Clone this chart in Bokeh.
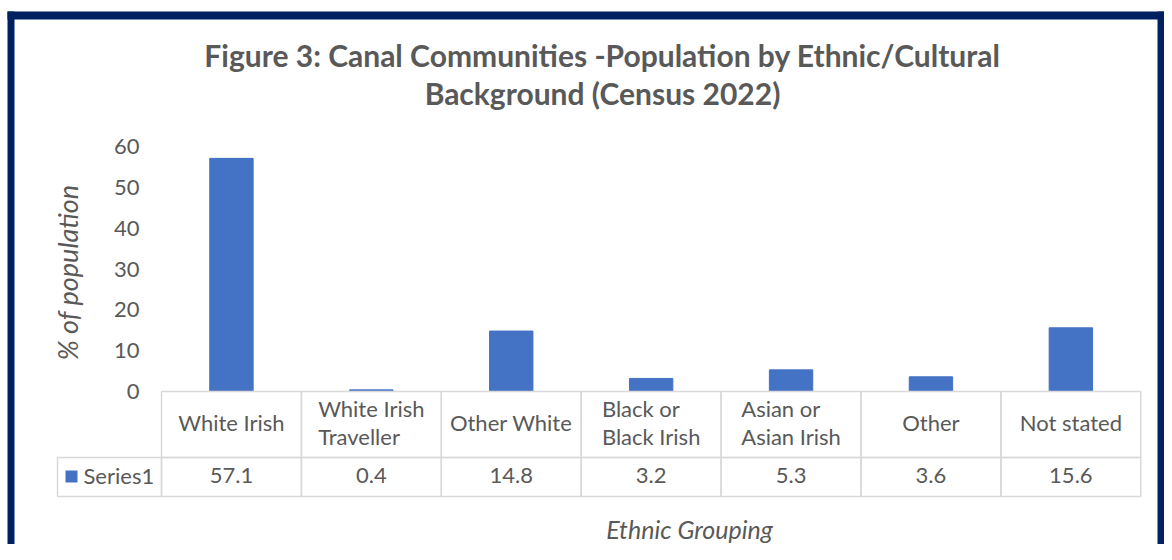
from bokeh.plotting import figure
from bokeh.models import Range1d, FixedTicker, BoxAnnotation, Label, LabelSet, ColumnDataSource
from bokeh.core.properties import value
from bokeh.embed import file_html
from bokeh.resources import INLINE

# ---- data ----
categories = ["White Irish", "White Irish\nTraveller", "Other White", "Black or\nBlack Irish",
              "Asian or\nAsian Irish", "Other", "Not stated"]
values = [57.1, 0.4, 14.8, 3.2, 5.3, 3.6, 15.6]
value_labels = ["57.1", "0.4", "14.8", "3.2", "5.3", "3.6", "15.6"]
y_ticks = [0, 10, 20, 30, 40, 50, 60]
series_name = "Series1"
title_lines = ["Figure 3: Canal Communities -Population by Ethnic/Cultural",
               "Background (Census 2022)"]
y_title = "% of population"
x_title = "Ethnic Grouping"

# ---- style / layout ----
FONT = "Lato"
TXT = "#595959"
BAR = "#4472C4"
GRID = "#d9d9d9"
NAVY = "#002060"

W, H = 1164, 544
X0, CW = 161.0, 139.9      # pixel of first category edge, category width
Y0, PU = 391.0, 4.083      # pixel of value 0, pixels per unit


def X(px):
    return (px - X0) / CW


def Y(py):
    return (Y0 - py) / PU


n = len(categories)
xs = [i + 0.5 for i in range(n)]

p = figure(width=W, height=H, output_backend="svg", toolbar_location=None,
           x_range=Range1d(X(0), X(W)), y_range=Range1d(Y(H), Y(0)), min_border=0)
p.title.visible = False
p.outline_line_color = None
p.xgrid.visible = False
p.ygrid.visible = False
p.xaxis.visible = False
p.background_fill_color = "white"
p.border_fill_color = "white"

ya = p.yaxis[0]
ya.fixed_location = X(150)
ya.ticker = FixedTicker(ticks=y_ticks)
ya.axis_line_color = None
ya.major_tick_line_color = None
ya.minor_tick_line_color = None
ya.major_tick_out = 0
ya.major_tick_in = 0
ya.major_label_standoff = 11
ya.major_label_text_font = FONT
ya.major_label_text_font_size = "22px"
ya.major_label_text_color = TXT
ya.axis_label = y_title
ya.axis_label_text_font = FONT
ya.axis_label_text_font_style = "italic"
ya.axis_label_text_font_size = "27px"
ya.axis_label_text_color = TXT
ya.axis_label_standoff = 27

# bars
p.vbar(x=xs, top=values, width=0.31, color=BAR)

# data table below the category axis
HT, HB, VB = Y(391), Y(457), Y(496)
SL = X(57)
box = dict(fill_color=None, line_color=GRID, line_width=1.5, line_alpha=1)
for i in range(n):
    p.add_layout(BoxAnnotation(left=i, right=i + 1, top=HT, bottom=HB, **box))
    p.add_layout(BoxAnnotation(left=i, right=i + 1, top=HB, bottom=VB, **box))
p.add_layout(BoxAnnotation(left=SL, right=0, top=HB, bottom=VB, **box))
p.add_layout(BoxAnnotation(left=X(65), right=X(77), top=Y(470), bottom=Y(482), fill_color=BAR,
                           fill_alpha=1, line_color=None))

hdr = ColumnDataSource(dict(x=xs, y=[Y(422)] * n, text=categories))
p.add_layout(LabelSet(x="x", y="y", text="text", source=hdr, text_align="center",
                      text_baseline="middle", text_font=value(FONT), text_font_size="22px",
                      text_color=TXT, text_line_height=1.06))
vals = ColumnDataSource(dict(x=xs, y=[Y(475)] * n, text=value_labels))
p.add_layout(LabelSet(x="x", y="y", text="text", source=vals, text_align="center",
                      text_baseline="middle", text_font=value(FONT), text_font_size="22px",
                      text_color=TXT))
p.add_layout(Label(x=X(83), y=Y(475), text=series_name, text_align="left",
                   text_baseline="middle", text_font=FONT, text_font_size="22px", text_color=TXT))

# titles
p.add_layout(Label(x=X(602), y=Y(54), text=title_lines[0], text_align="center", text_baseline="middle",
                   text_font=FONT, text_font_size="30px", text_font_style="bold", text_color=TXT))
p.add_layout(Label(x=X(602), y=Y(92), text=title_lines[1], text_align="center", text_baseline="middle",
                   text_font=FONT, text_font_size="30px", text_font_style="bold", text_color=TXT))
p.add_layout(Label(x=X(689), y=Y(528), text=x_title, text_align="center", text_baseline="middle",
                   text_font=FONT, text_font_size="25px", text_font_style="italic", text_color=TXT))

# navy frame
cu = dict(left_units="canvas", right_units="canvas", top_units="canvas", bottom_units="canvas",
          fill_color=NAVY, fill_alpha=1, line_color=None)
p.add_layout(BoxAnnotation(left=7, right=14, top=11, bottom=H, **cu))
p.add_layout(BoxAnnotation(left=W - 7, right=W, top=11, bottom=H, **cu))
p.add_layout(BoxAnnotation(left=7, right=W, top=11, bottom=19, **cu))

open("out.html", "w").write(file_html(p, INLINE))
